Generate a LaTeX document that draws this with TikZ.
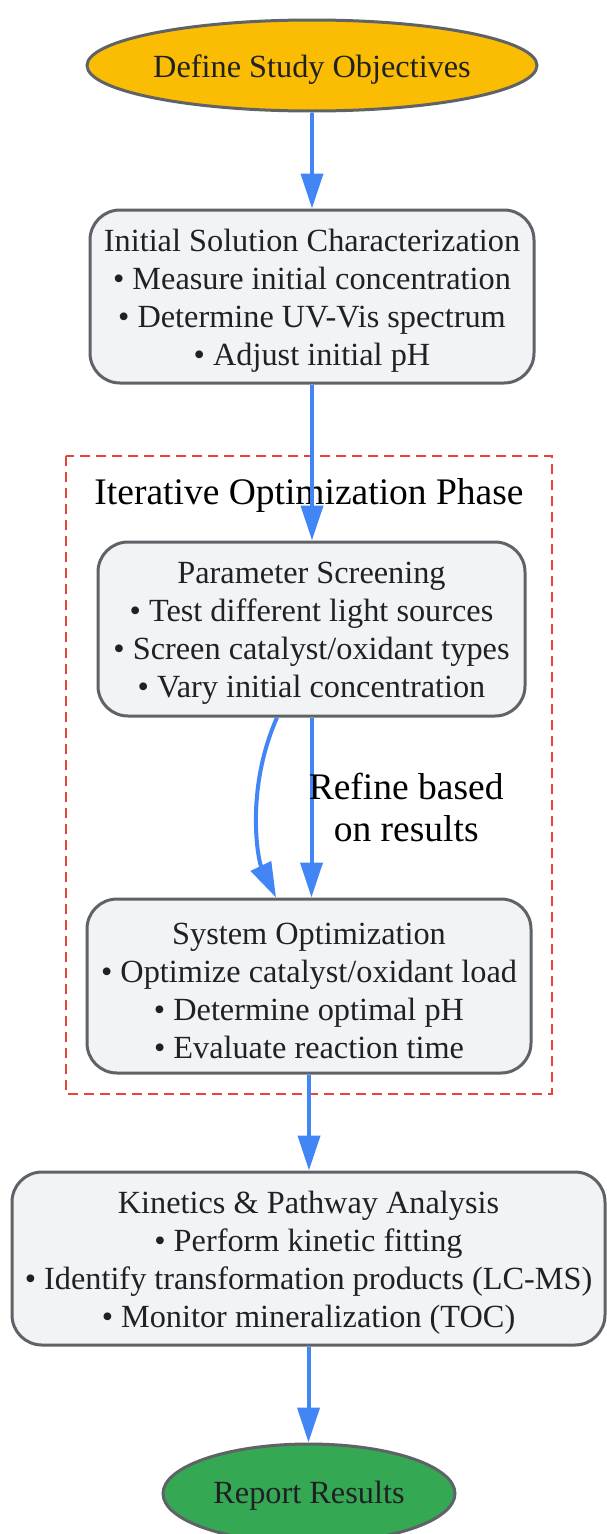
\documentclass[tikz,border=0pt]{standalone}
\usepackage{fontspec}
\setmainfont{Liberation Serif}
\usetikzlibrary{shapes.geometric,arrows.meta,calc}
\definecolor{cyellow}{HTML}{FBBC04}
\definecolor{cgreen}{HTML}{34A853}
\definecolor{cfill}{HTML}{F1F3F4}
\definecolor{cstroke}{HTML}{5F6368}
\definecolor{cblue}{HTML}{4285F4}
\definecolor{cred}{HTML}{EA4335}
\definecolor{ctext}{HTML}{202124}
\newcommand{\tup}{\rule{0pt}{30.5pt}}
\tikzset{
  nodefont/.style={font=\fontsize{32.3}{38}\selectfont, text=ctext, align=center},
  terminal/.style={ellipse, draw=cstroke, line width=3pt, inner sep=0pt, nodefont},
  stepbox/.style={rectangle, rounded corners=30pt, draw=cstroke, fill=cfill, line width=3pt, inner sep=0pt, nodefont},
  flow/.style={draw=cblue, line width=4pt, -{Triangle[length=35pt,width=22pt]}},
  cluster/.style={draw=cred, line width=2pt, dash pattern=on 10pt off 6pt},
  bigfont/.style={font=\fontsize{37.5}{42}\selectfont, text=black, align=center}
}
\begin{document}
\begin{tikzpicture}[x=1pt,y=-1pt]
\useasboundingbox (0,0) rectangle (606,1534);
\fill[white] (0,0) rectangle (606,1534);

% cluster
\draw[cluster] (66,456) rectangle (552,1094);
\node[bigfont] (cl) at (309,495) {Iterative Optimization Phase};

\node[terminal, fill=cyellow, minimum width=450pt, minimum height=91pt] (start) at (312,65.5) {\tup Define Study Objectives};

\node[stepbox, minimum width=444pt, minimum height=173pt] (init) at (312,296.5)
  {\tup Initial Solution Characterization\\ • Measure initial concentration\\ • Determine UV-Vis spectrum\\ • Adjust initial pH};

\node[stepbox, minimum width=427pt, minimum height=174pt] (screen) at (311.5,629)
  {\tup Parameter Screening\\ • Test different light sources\\ • Screen catalyst/oxidant types\\ • Vary initial concentration};

\node[stepbox, minimum width=444pt, minimum height=174pt] (opt) at (309,986)
  {\tup System Optimization\\ • Optimize catalyst/oxidant load\\ • Determine optimal pH\\ • Evaluate reaction time};

\node[stepbox, minimum width=593pt, minimum height=173pt] (kin) at (308.5,1258.5)
  {\tup Kinetics \& Pathway Analysis\\ • Perform kinetic fitting\\ • Identify transformation products (LC-MS)\\ • Monitor mineralization (TOC)};

\node[terminal, fill=cgreen, minimum width=292pt, minimum height=99pt] (report) at (309,1493.5) {\rule{0pt}{27pt}Report Results};

% connectors
\draw[flow] (start.south) -- (start.south |- init.north);
\draw[flow] (init.south) -- (init.south |- screen.north);
\coordinate (c1s) at ($(screen.south)+(-34.5,0)$);
\coordinate (c1e) at ($(opt.north)+(-33,0)$);
\draw[flow] (c1s) .. controls (245,790) and (258,860) .. (c1e);
\draw[flow] (screen.south) -- node[bigfont, midway, anchor=west, xshift=-8pt] (lbl) {Refine based\\on results} (screen.south |- opt.north);
\draw[flow] (opt.south) -- (opt.south |- kin.north);
\draw[flow] (kin.south) -- (kin.south |- report.north);
\end{tikzpicture}
\end{document}
